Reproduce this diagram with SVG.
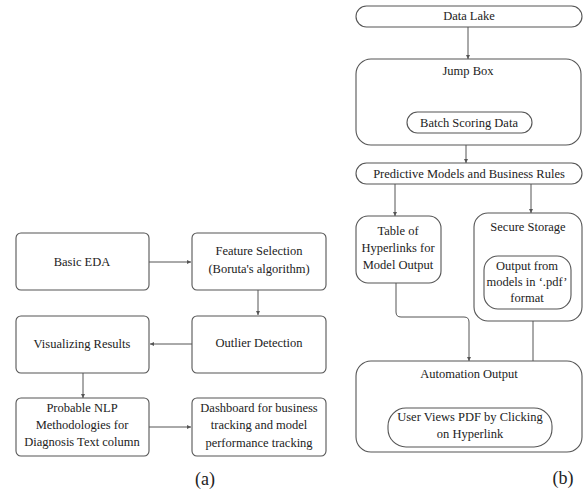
<svg xmlns="http://www.w3.org/2000/svg" width="584" height="490" viewBox="0 0 584 490">
<style>
.b{fill:#fff;stroke:#555;stroke-width:1.1}
.c{fill:none;stroke:#555;stroke-width:1}
text{font-family:"Liberation Serif","DejaVu Serif","Noto Serif",serif;font-size:12.5px;fill:#222;text-anchor:middle}
.lab{font-size:18px}
</style>
<defs>
<marker id="ah" viewBox="0 0 6 6" refX="6" refY="3" markerWidth="4" markerHeight="4" orient="auto">
<path d="M0,0 L6,3 L0,6 z" fill="#555"/>
</marker>
</defs>
<rect width="584" height="490" fill="#fff"/>
<g id="edges">
<line class="c" x1="149" y1="262" x2="191" y2="262" marker-end="url(#ah)"/>
<line class="c" x1="258" y1="290" x2="258" y2="315" marker-end="url(#ah)"/>
<line class="c" x1="192" y1="344" x2="150" y2="344" marker-end="url(#ah)"/>
<line class="c" x1="83" y1="373" x2="83" y2="398" marker-end="url(#ah)"/>
<line class="c" x1="149" y1="427" x2="191" y2="427" marker-end="url(#ah)"/>
<line class="c" x1="468" y1="27" x2="468" y2="59" marker-end="url(#ah)"/>
<line class="c" x1="466" y1="133" x2="466" y2="163" marker-end="url(#ah)"/>
<line class="c" x1="395" y1="184" x2="395" y2="216" marker-end="url(#ah)"/>
<line class="c" x1="531" y1="184" x2="531" y2="213" marker-end="url(#ah)"/>
<path class="c" d="M396,283 V312 Q396,317 401,317 H464 Q469,317 469,322 V361" marker-end="url(#ah)"/>
<line class="c" x1="533" y1="408" x2="533" y2="309" marker-end="url(#ah)"/>
</g>
<g id="basic-eda"><rect class="b" x="16" y="233" width="133" height="57" rx="5"/><text x="82" y="266">Basic EDA</text></g>
<g id="feature-selection"><rect class="b" x="192" y="233" width="134" height="57" rx="5"/><text x="259" y="255">Feature Selection</text><text x="259" y="273">(Boruta's algorithm)</text></g>
<g id="outlier-detection"><rect class="b" x="192" y="316" width="134" height="57" rx="5"/><text x="259" y="347">Outlier Detection</text></g>
<g id="visualizing-results"><rect class="b" x="16" y="316" width="133" height="57" rx="5"/><text x="82" y="348">Visualizing Results</text></g>
<g id="probable-nlp"><rect class="b" x="16" y="398" width="133" height="58" rx="5"/><text x="82" y="412">Probable NLP</text><text x="82" y="429">Methodologies for</text><text x="82" y="446">Diagnosis Text column</text></g>
<g id="dashboard"><rect class="b" x="192" y="398" width="134" height="58" rx="5"/><text x="259" y="412">Dashboard for business</text><text x="259" y="429">tracking and model</text><text x="259" y="447">performance tracking</text></g>
<text class="lab" x="205" y="485">(a)</text>
<g id="data-lake"><rect class="b" x="356" y="6" width="226" height="21" rx="10.5"/><text x="469" y="20">Data Lake</text></g>
<g id="jump-box"><rect class="b" x="356" y="59" width="225" height="86" rx="15"/><text x="468" y="75">Jump Box</text>
<g id="batch-scoring"><rect class="b" x="407" y="112" width="125" height="21" rx="10.5"/><text x="469" y="127">Batch Scoring Data</text></g></g>
<g id="predictive-models"><rect class="b" x="356" y="163" width="226" height="21" rx="10.5"/><text x="469" y="178">Predictive Models and Business Rules</text></g>
<g id="table-hyperlinks"><rect class="b" x="356" y="216" width="85" height="67" rx="12"/><text x="398" y="235">Table of</text><text x="398" y="252">Hyperlinks for</text><text x="398" y="269">Model Output</text></g>
<g id="secure-storage"><rect class="b" x="474" y="213" width="108" height="108" rx="14"/><text x="528" y="231">Secure Storage</text>
<g id="output-pdf"><rect class="b" x="484" y="256" width="87" height="53" rx="14"/><text x="527" y="270">Output from</text><text x="527" y="286">models in ‘.pdf’</text><text x="527" y="302">format</text></g></g>
<g id="automation-output"><rect class="b" x="356" y="361" width="226" height="91" rx="15"/><text x="469" y="378">Automation Output</text>
<g id="user-views"><rect class="b" x="388" y="408" width="164" height="39" rx="18"/><text x="470" y="421">User Views PDF by Clicking</text><text x="470" y="438">on Hyperlink</text></g></g>
<text class="lab" x="563" y="484">(b)</text>
</svg>
